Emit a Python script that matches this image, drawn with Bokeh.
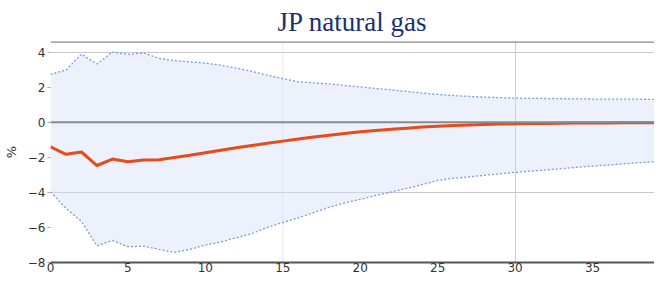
from bokeh.plotting import figure
from bokeh.models import Range1d, Span, FixedTicker, ColumnDataSource
from bokeh.embed import file_html
from bokeh.resources import INLINE

horizon = list(range(40))
median = [-1.41, -1.83, -1.70, -2.47, -2.10, -2.25, -2.16, -2.14, -2.01, -1.89,
          -1.74, -1.60, -1.46, -1.33, -1.20, -1.08, -0.96, -0.84, -0.74, -0.64,
          -0.55, -0.47, -0.40, -0.34, -0.28, -0.23, -0.19, -0.16, -0.13, -0.11,
          -0.09, -0.08, -0.07, -0.06, -0.05, -0.04, -0.04, -0.03, -0.03, -0.03]
upper = [2.73, 2.97, 3.88, 3.32, 4.00, 3.86, 3.95, 3.64, 3.51, 3.44,
         3.37, 3.25, 3.08, 2.90, 2.68, 2.48, 2.30, 2.24, 2.18, 2.09,
         2.01, 1.92, 1.84, 1.75, 1.66, 1.58, 1.52, 1.47, 1.43, 1.40,
         1.37, 1.36, 1.35, 1.34, 1.33, 1.32, 1.31, 1.31, 1.31, 1.30]
lower = [-3.97, -4.92, -5.65, -7.05, -6.74, -7.10, -7.07, -7.25, -7.42, -7.25,
         -7.01, -6.83, -6.58, -6.35, -6.00, -5.72, -5.45, -5.15, -4.85, -4.60,
         -4.40, -4.18, -3.98, -3.78, -3.55, -3.32, -3.20, -3.12, -3.03, -2.94,
         -2.86, -2.79, -2.72, -2.65, -2.57, -2.50, -2.44, -2.38, -2.31, -2.25]
x_ticks = [0, 5, 10, 15, 20, 25, 30, 35]
y_ticks = [4, 2, 0, -2, -4, -6, -8]

src = ColumnDataSource(dict(x=horizon, m=median, u=upper, l=lower))

p = figure(width=654, height=274, output_backend="svg", toolbar_location=None,
           x_range=Range1d(0, 39), y_range=Range1d(-8, 4.6),
           title="JP natural gas", min_border_left=44, min_border_right=0,
           min_border_top=41, min_border_bottom=0)
p.title.align = "center"
p.title.text_font = "Liberation Serif"
p.title.text_font_size = "27px"
p.title.text_font_style = "normal"
p.title.text_color = "#1b2f72"
p.title.standoff = 9

p.outline_line_color = None
p.background_fill_color = "white"

p.xgrid.ticker = FixedTicker(ticks=[30])
p.xgrid.grid_line_color = "#cccccc"
p.ygrid.ticker = FixedTicker(ticks=[4, -4])
p.ygrid.grid_line_color = "#c8c8c8"
p.ygrid.grid_line_width = 1.2
p.add_layout(Span(location=15, dimension="height", line_color="#e8e8e8",
                  line_width=1, level="underlay"))

p.varea(x="x", y1="l", y2="u", source=src, fill_color="#cfdcf5", fill_alpha=0.4)
p.line(x="x", y="u", source=src, line_color="#7b9bd8", line_width=1.3, line_dash="2 2")
p.line(x="x", y="l", source=src, line_color="#7b9bd8", line_width=1.3, line_dash="2 2")

p.add_layout(Span(location=0, dimension="width", line_color="#8a8a8a", line_width=2))
p.add_layout(Span(location=4.6, dimension="width", line_color="#8a8a8a", line_width=2.5))
p.add_layout(Span(location=39, dimension="height", line_color="#c8c8c8", line_width=1))

p.line(x="x", y="m", source=src, line_color="#e84a1a", line_width=3)

p.xaxis.ticker = FixedTicker(ticks=x_ticks)
p.yaxis.ticker = FixedTicker(ticks=y_ticks)
for ax in (p.xaxis[0], p.yaxis[0]):
    ax.major_label_text_font = "DejaVu Sans"
    ax.major_label_text_font_size = "12px"
    ax.major_label_text_color = "#333333"
    ax.minor_tick_line_color = None
p.xaxis.axis_line_color = "#555555"
p.xaxis.axis_line_width = 2
p.xaxis.major_tick_in = 0
p.xaxis.major_tick_out = 0
p.xaxis.major_label_standoff = 0
p.yaxis.axis_line_color = None
p.yaxis.major_tick_in = 0
p.yaxis.major_tick_out = 3
p.yaxis.major_tick_line_color = "#aaaaaa"
p.yaxis.major_label_standoff = 2
p.yaxis.major_label_overrides = {t: ("\u2212" + str(-t) if t < 0 else str(t)) for t in y_ticks}
p.yaxis.axis_label = "%"
p.yaxis.axis_label_text_font = "DejaVu Sans"
p.yaxis.axis_label_text_font_size = "13px"
p.yaxis.axis_label_text_font_style = "normal"
p.yaxis.axis_label_text_color = "#333333"
p.yaxis.axis_label_standoff = 6

open("out.html", "w").write(file_html(p, INLINE))
